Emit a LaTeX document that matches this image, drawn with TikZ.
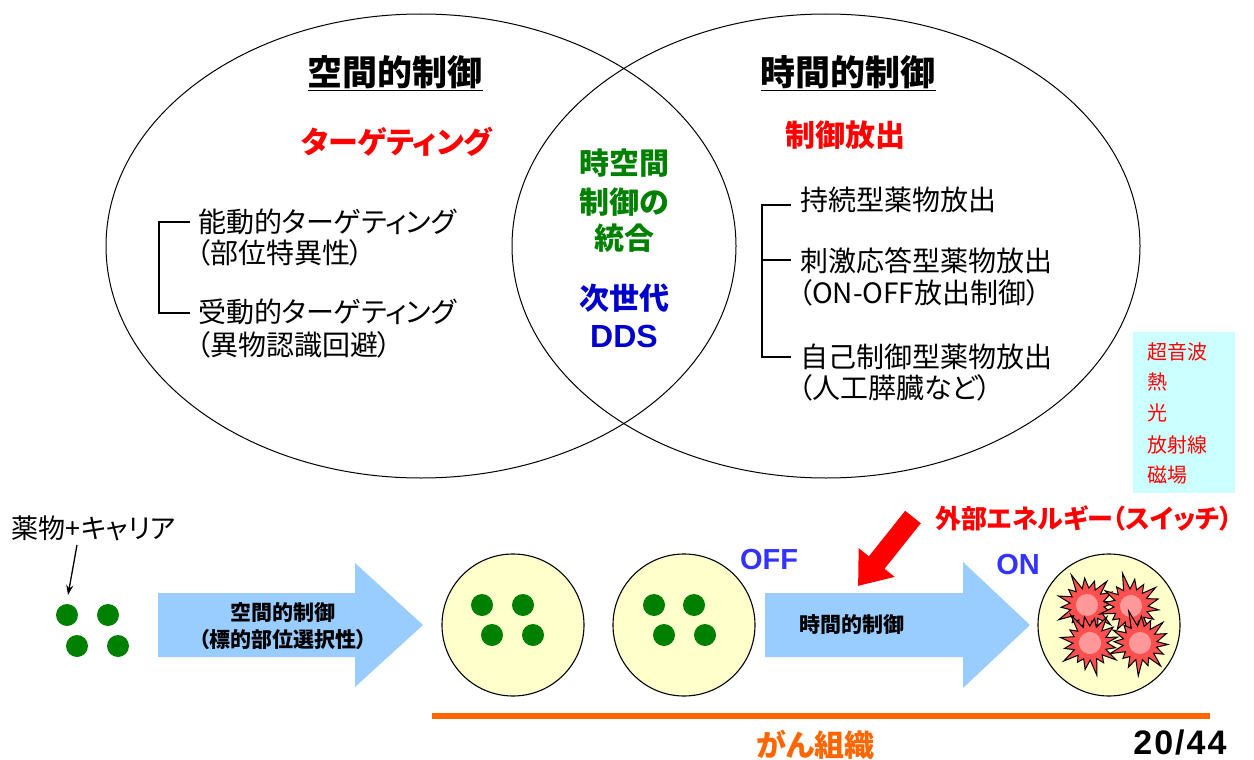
\documentclass[tikz,border=0pt]{standalone}
\usepackage{fontspec}
\setmainfont{Noto Sans CJK JP}[RawFeature=+palt]
\newfontfamily\latinfont{Liberation Sans}
\usetikzlibrary{arrows.meta}

\definecolor{arrowblue}{HTML}{99CCFF}
\definecolor{cellfill}{HTML}{FFFFCC}
\definecolor{boxcyan}{HTML}{CCFFFF}
\definecolor{dotgreen}{HTML}{008000}
\definecolor{ddsblue}{HTML}{0000CC}
\definecolor{switchblue}{HTML}{3333FF}
\definecolor{tissue}{HTML}{FF6600}
\definecolor{burstred}{HTML}{FF5050}
\definecolor{burstcore}{HTML}{FF9999}

\tikzset{
  txt/.style={inner sep=0pt, outer sep=0pt},
  fs/.style={font=\fontsize{#1}{#1}\selectfont},
  fsb/.style={font=\fontsize{#1}{#1}\selectfont\bfseries},
  fsl/.style={font=\fontsize{#1}{#1}\selectfont\latinfont\bfseries},
  venn/.style={draw=black, line width=1pt},
  bracket/.style={draw=black, line width=1.4pt},
  blockarrow/.style={fill=arrowblue},
  cell/.style={draw=black, line width=1.1pt, fill=cellfill},
  drug/.style={fill=dotgreen},
  pics/burst/.style={code={
    \draw[fill=burstred, line width=1pt, line join=miter]
      (0:#1) \foreach \r [count=\k] in {26,31,24,33,27,23,32,26,30,24,34,27,25,31,28}
      { -- ({(\k-0.5)*22.5}:17) -- ({\k*22.5}:\r) } -- (352.5:17) -- cycle;
    \fill[burstcore] (0,0) circle (11pt);
  }},
}

\begin{document}
\begin{tikzpicture}[x=1pt, y=-1pt]
\useasboundingbox (0,0) rectangle (1254,760);

% --- the two overlapping sets ---
\draw[venn] (421,246) ellipse [x radius=315pt, y radius=232pt];
\draw[venn] (826,246) ellipse [x radius=314pt, y radius=232pt];

% headings
\node[txt, fsb=35] (spaceT) at (395,73) {\underline{空間的制御}};
\node[txt, fsb=35] (timeT)  at (848,73) {\underline{時間的制御}};
\node[txt, fsb=30, text=red] (target)  at (397,142) {ターゲティング};
\node[txt, fsb=30, text=red] (release) at (845,135) {制御放出};

% overlap
\node[txt, fsb=30, text=dotgreen] (mid1) at (624,163) {時空間};
\node[txt, fsb=30, text=dotgreen] (mid2) at (624,202) {制御の};
\node[txt, fsb=30, text=dotgreen] (mid3) at (624,238) {統合};
\node[txt, fsb=30, text=ddsblue]  (mid4) at (624,298) {次世代};
\node[txt, fsl=32, text=ddsblue]  (mid5) at (624,336) {DDS};

% spatial list
\node[txt, fs=28, anchor=west] (a1) at (198,222) {能動的ターゲティング};
\node[txt, fs=28, anchor=west] (a2) at (196,253) {（部位特異性）};
\node[txt, fs=28, anchor=west] (a3) at (198,312) {受動的ターゲティング};
\node[txt, fs=28, anchor=west] (a4) at (196,345) {（異物認識回避）};
\draw[bracket] (190,222) -| (159,313) -- (190,313);

% temporal list
\node[txt, fs=28, anchor=west] (b1) at (800,200) {持続型薬物放出};
\node[txt, fs=28, anchor=west] (b2) at (800,261) {刺激応答型薬物放出};
\node[txt, fs=28, anchor=west] (b3) at (798,293) {（ON-OFF放出制御）};
\node[txt, fs=28, anchor=west] (b4) at (800,357) {自己制御型薬物放出};
\node[txt, fs=28, anchor=west] (b5) at (798,388) {（人工膵臓など）};
\draw[bracket] (791,205) -| (762,357) -- (791,357);
\draw[bracket] (762,260) -- (791,260);

% energy sources
\fill[boxcyan] (1133,332) rectangle (1235,493);
\node[txt, fs=20, text=red, anchor=west] (e1) at (1147,352) {超音波};
\node[txt, fs=20, text=red, anchor=west] (e2) at (1147,382) {熱};
\node[txt, fs=20, text=red, anchor=west] (e3) at (1147,413) {光};
\node[txt, fs=20, text=red, anchor=west] (e4) at (1147,445) {放射線};
\node[txt, fs=20, text=red, anchor=west] (e5) at (1147,475) {磁場};

% --- drug carriers ---
\node[txt, fs=27, anchor=west] (carrier) at (12,528) {薬物+キャリア};
\coordinate (cFrom) at (77,545);
\coordinate (cTo) at (68,595);
\draw[line width=1.3pt, -{Stealth[length=10pt, width=7pt]}] (cFrom) -- (cTo);
\foreach \p in {(67,615),(108,615),(77,646),(118,646)}
  \fill[drug] \p circle (11pt);

% spatial control arrow
\path[blockarrow] (158,593) -- (355,593) -- (355,563) -- (423,625)
  -- (355,687) -- (355,657) -- (158,657) -- cycle;
\node[txt, fsb=21] (sp1) at (283,613) {空間的制御};
\node[txt, fsb=21] (sp2) at (283,640) {（標的部位選択性）};

% tissue cells
\node[cell, circle, minimum size=142pt, inner sep=0pt] (cellA) at (513,625) {};
\node[cell, circle, minimum size=142pt, inner sep=0pt] (cellB) at (684,625) {};
\node[cell, circle, minimum size=142pt, inner sep=0pt] (cellC) at (1109,625) {};
\foreach \p in {(482,605),(523,605),(492,635),(533,635),
                (654,605),(694,605),(664,635),(705,635)}
  \fill[drug] \p circle (11pt);

% temporal control arrow
\path[blockarrow] (765,593) -- (963,593) -- (963,562) -- (1030,625)
  -- (963,688) -- (963,657) -- (765,657) -- cycle;
\node[txt, fsb=21] (tm) at (852,625) {時間的制御};

\node[txt, fsl=29, text=switchblue] (off) at (769,560) {OFF};
\node[txt, fsl=29, text=switchblue] (on)  at (1018,565) {ON};

% external energy switch
\node[txt, fsb=26, text=red] (energy) at (1084,518) {外部エネルギー（スイッチ）};
\coordinate (swFrom) at (913,517);
\coordinate (swTo) at (858,586);
\draw[red, line width=20pt, -{Triangle[length=30pt, width=44pt]}] (swFrom) -- (swTo);

% released drugs
\pic[rotate=5]   at (1087,605) {burst=28};
\pic[rotate=-8]  at (1131,606) {burst=28};
\pic[rotate=12]  at (1090,643) {burst=28};
\pic[rotate=-3]  at (1140,643) {burst=28};

% tumour tissue bar
\coordinate (barL) at (432,716);
\coordinate (barR) at (1210,716);
\draw[tissue, line width=6pt] (barL) -- (barR);
\node[txt, fsb=30, text=tissue] (gan) at (815,745) {がん組織};
\node[txt, fsl=34, font=\fontsize{34}{34}\selectfont\latinfont\bfseries\addfontfeature{LetterSpace=6}] (page) at (1180,743) {20/44};
\end{tikzpicture}
\end{document}
